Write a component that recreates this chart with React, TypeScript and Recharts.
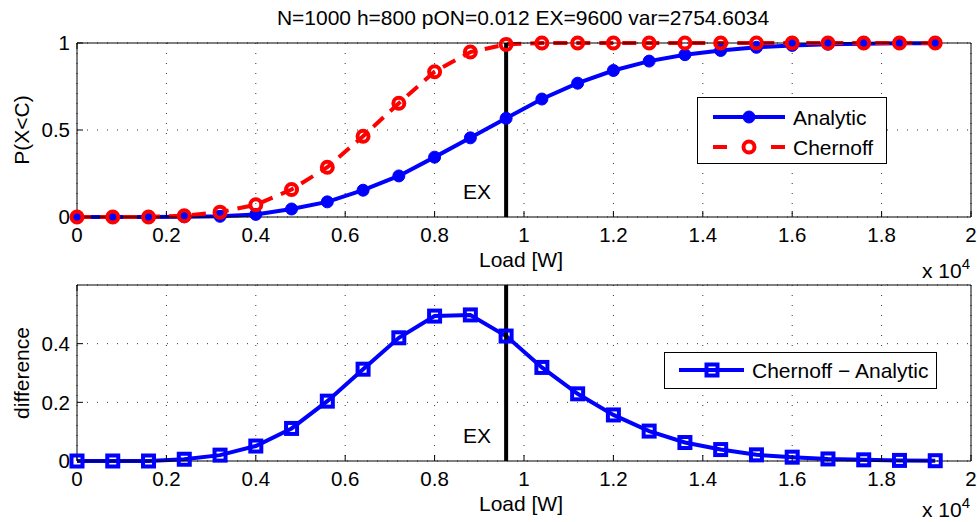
import React from 'react';
import { LineChart, Line, XAxis, YAxis, CartesianGrid, ReferenceLine, Legend } from 'recharts';

const loadW = [0, 800, 1600, 2400, 3200, 4000, 4800, 5600, 6400, 7200, 8000, 8800, 9600, 10400, 11200, 12000, 12800, 13600, 14400, 15200, 16000, 16800, 17600, 18400, 19200];
const analytic = [0, 0, 0, 0.001, 0.004, 0.015, 0.046, 0.087, 0.154, 0.236, 0.344, 0.455, 0.567, 0.678, 0.769, 0.842, 0.896, 0.933, 0.957, 0.975, 0.986, 0.993, 0.996, 0.998, 0.999];
const chernoff = [0, 0, 0, 0.007, 0.028, 0.07, 0.158, 0.286, 0.464, 0.654, 0.835, 0.948, 0.992, 1, 1, 1, 1, 1, 1, 1, 1, 1, 1, 1, 1];
const difference = [0, 0, 0, 0.006, 0.02, 0.051, 0.111, 0.204, 0.313, 0.42, 0.494, 0.498, 0.426, 0.319, 0.229, 0.157, 0.102, 0.063, 0.039, 0.021, 0.013, 0.007, 0.004, 0.002, 0.001];
const xTicks = [0, 2000, 4000, 6000, 8000, 10000, 12000, 14000, 16000, 18000, 20000];
const topYTicks = [0, 0.5, 1];
const bottomYTicks = [0, 0.2, 0.4];
const titleText = 'N=1000 h=800 pON=0.012 EX=9600 var=2754.6034';
const exLoad = 9600;

const topData = loadW.map((x, i) => ({ load: x, analytic: analytic[i], chernoff: chernoff[i] }));
const bottomData = loadW.map((x, i) => ({ load: x, diff: difference[i] }));

const BLUE = '#0000ff';
const RED = '#ff0000';
const FONT = '"Liberation Sans", Arial, Helvetica, sans-serif';
const TICK_FS = 20.5;
const LABEL_FS = 21;
const LW = 4;

const fmtX = (v: number) => (v === 0 ? '0' : String(+(v / 10000).toFixed(1)));

const BottomTick = (props: any) => {
  const { x, y, payload } = props;
  return (
    <text x={x} y={y + 17} textAnchor="middle" fontSize={TICK_FS} fill="#000">
      {fmtX(payload.value)}
    </text>
  );
};

const LeftTick = (props: any) => {
  const { x, y, payload } = props;
  return (
    <text x={x} y={y} dy="0.36em" textAnchor="end" fontSize={TICK_FS} fill="#000">
      {String(payload.value)}
    </text>
  );
};

const EmptyTick = () => <g />;

const makeXLabel = (expOffset: number) => (props: any) => {
  const { viewBox } = props;
  const { x, y, width } = viewBox;
  return (
    <g>
      <text x={x + width / 2 - 3} y={y + 50} textAnchor="middle" fontSize={LABEL_FS} fill="#000">
        Load [W]
      </text>
      <text x={x + width - 49} y={y + expOffset} fontSize={LABEL_FS} fill="#000">
        x 10<tspan dy={-9} fontSize={15}>4</tspan>
      </text>
    </g>
  );
};

const makeYLabel = (txt: string) => (props: any) => {
  const { viewBox } = props;
  const cx = viewBox.x + 21;
  const cy = viewBox.y + viewBox.height / 2;
  return (
    <text x={cx} y={cy} transform={`rotate(-90, ${cx}, ${cy})`} textAnchor="middle" dominantBaseline="central" fontSize={LABEL_FS} fill="#000">
      {txt}
    </text>
  );
};

const ExLabel = (props: any) => {
  const { viewBox } = props;
  return (
    <text x={viewBox.x - 15} y={viewBox.y + viewBox.height - 18} textAnchor="end" fontSize={LABEL_FS} fill="#000">
      EX
    </text>
  );
};

const SquareDot = (props: any) => {
  const { cx, cy, index } = props;
  if (cx == null || cy == null) return <g key={`s${index}`} />;
  return <rect key={`s${index}`} x={cx - 5.5} y={cy - 5.5} width={11} height={11} fill="none" stroke={BLUE} strokeWidth={LW} />;
};

const TopLegend = () => (
  <div style={{ width: 190, height: 67, border: '1px solid #000', background: '#fff', boxSizing: 'border-box', position: 'relative', fontFamily: FONT }}>
    <svg width={188} height={65} style={{ position: 'absolute', left: 0, top: 0 }}>
      <line x1={15} x2={87} y1={19} y2={19} stroke={BLUE} strokeWidth={LW} />
      <circle cx={51} cy={19} r={6} fill={BLUE} stroke={BLUE} />
      <text x={95} y={19} dy="0.36em" fontSize={LABEL_FS} fill="#000">Analytic</text>
      <line x1={15} x2={29} y1={49} y2={49} stroke={RED} strokeWidth={LW} />
      <line x1={73} x2={87} y1={49} y2={49} stroke={RED} strokeWidth={LW} />
      <circle cx={51} cy={49} r={5.5} fill="none" stroke={RED} strokeWidth={LW} />
      <text x={95} y={49} dy="0.36em" fontSize={LABEL_FS} fill="#000">Chernoff</text>
    </svg>
  </div>
);

const BottomLegend = () => (
  <div style={{ width: 273, height: 37, border: '1px solid #000', background: '#fff', boxSizing: 'border-box', position: 'relative', fontFamily: FONT }}>
    <svg width={271} height={35} style={{ position: 'absolute', left: 0, top: 0 }}>
      <line x1={14} x2={79} y1={17} y2={17} stroke={BLUE} strokeWidth={LW} />
      <rect x={41.5} y={11.5} width={11} height={11} fill="none" stroke={BLUE} strokeWidth={LW} />
      <text x={87} y={17} dy="0.36em" fontSize={LABEL_FS} fill="#000">Chernoff − Analytic</text>
    </svg>
  </div>
);

const gridProps = { stroke: '#333', strokeDasharray: '1 9' };

export default function App() {
  return (
    <div style={{ position: 'absolute', left: 0, top: 0, width: 977, height: 522, background: '#fff', fontFamily: FONT, overflow: 'hidden' }}>
      <div style={{ position: 'absolute', left: 73, top: 7, width: 900, textAlign: 'center', fontSize: 21, lineHeight: '21px', color: '#000' }}>
        {titleText}
      </div>

      <div style={{ position: 'absolute', left: 0, top: 0 }}>
        <LineChart width={977} height={285} data={topData} margin={{ top: 42, right: 5, bottom: 0, left: 0 }}>
          <CartesianGrid {...gridProps} />
          <XAxis dataKey="load" type="number" domain={[0, 20000]} ticks={xTicks} height={68} axisLine={{ stroke: '#000' }} tickLine={{ stroke: '#000' }} tickSize={-6} tickMargin={14} tick={BottomTick} label={makeXLabel(61)} interval={0} />
          <XAxis xAxisId="top" orientation="top" type="number" domain={[0, 20000]} ticks={xTicks} height={1} axisLine={{ stroke: '#000' }} tickLine={{ stroke: '#000' }} tickSize={-6} tick={EmptyTick} interval={0} />
          <YAxis type="number" domain={[0, 1]} ticks={topYTicks} width={77} axisLine={{ stroke: '#000' }} tickLine={{ stroke: '#000' }} tickSize={-6} tickMargin={13} tick={LeftTick} label={makeYLabel('P(X<C)')} interval={0} />
          <YAxis yAxisId="r" orientation="right" type="number" domain={[0, 1]} ticks={topYTicks} width={1} axisLine={{ stroke: '#000' }} tickLine={{ stroke: '#000' }} tickSize={-6} tick={EmptyTick} interval={0} />
          <Line dataKey="analytic" stroke={BLUE} strokeWidth={LW} dot={{ r: 6, fill: BLUE, stroke: BLUE, strokeWidth: 1 }} isAnimationActive={false} />
          <Line dataKey="chernoff" stroke={RED} strokeWidth={LW} strokeDasharray="14 9" dot={{ r: 5.5, fill: 'none', stroke: RED, strokeWidth: LW, strokeDasharray: '' }} isAnimationActive={false} />
          <ReferenceLine x={exLoad} stroke="#000" strokeWidth={4} label={ExLabel} />
          <Legend layout="horizontal" verticalAlign="middle" align="center" wrapperStyle={{ left: 697, top: 97, width: 190, height: 67 }} content={() => <TopLegend />} />
        </LineChart>
      </div>

      <div style={{ position: 'absolute', left: 0, top: 260 }}>
        <LineChart width={977} height={262} data={bottomData} margin={{ top: 24, right: 5, bottom: 0, left: 0 }}>
          <CartesianGrid {...gridProps} />
          <XAxis dataKey="load" type="number" domain={[0, 20000]} ticks={xTicks} height={61} axisLine={{ stroke: '#000' }} tickLine={{ stroke: '#000' }} tickSize={-6} tickMargin={14} tick={BottomTick} label={makeXLabel(56)} interval={0} />
          <XAxis xAxisId="top" orientation="top" type="number" domain={[0, 20000]} ticks={xTicks} height={1} axisLine={{ stroke: '#000' }} tickLine={{ stroke: '#000' }} tickSize={-6} tick={EmptyTick} interval={0} />
          <YAxis type="number" domain={[0, 0.6]} ticks={bottomYTicks} width={77} axisLine={{ stroke: '#000' }} tickLine={{ stroke: '#000' }} tickSize={-6} tickMargin={13} tick={LeftTick} label={makeYLabel('difference')} interval={0} />
          <YAxis yAxisId="r" orientation="right" type="number" domain={[0, 0.6]} ticks={bottomYTicks} width={1} axisLine={{ stroke: '#000' }} tickLine={{ stroke: '#000' }} tickSize={-6} tick={EmptyTick} interval={0} />
          <Line dataKey="diff" stroke={BLUE} strokeWidth={LW} dot={SquareDot} isAnimationActive={false} />
          <ReferenceLine x={exLoad} stroke="#000" strokeWidth={4} label={ExLabel} />
          <Legend layout="horizontal" verticalAlign="middle" align="center" wrapperStyle={{ left: 664, top: 92, width: 273, height: 37 }} content={() => <BottomLegend />} />
        </LineChart>
      </div>
    </div>
  );
}
